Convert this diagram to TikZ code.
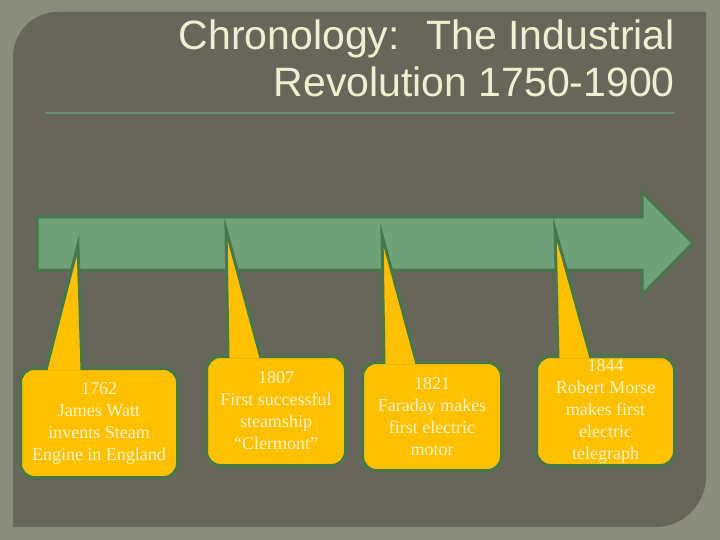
\documentclass[tikz,border=0pt]{standalone}
\usepackage{fontspec}
\setmainfont{Liberation Serif}
\newfontfamily\titlefont{Liberation Sans}
\usetikzlibrary{positioning}
\definecolor{slide}{HTML}{8A8D7E}
\definecolor{panel}{HTML}{66665A}
\definecolor{cream}{HTML}{EEEED0}
\definecolor{rulecol}{HTML}{6E8C70}
\definecolor{barfill}{HTML}{6FA279}
\definecolor{barline}{HTML}{48774C}
\definecolor{gold}{HTML}{FFC000}
\definecolor{note}{HTML}{FFF3C8}

\tikzset{
  heading/.style={text=cream, font=\titlefont\fontsize{41}{49}\selectfont, inner sep=0pt, anchor=base east},
  callout/.style={draw=barline, line width=3pt, fill=gold, rounded corners=14pt, align=center, text=note, font=\fontsize{18}{22}\selectfont, inner sep=0pt},
  tail/.style={draw=barline, line width=3pt},
}

\begin{document}
\begin{tikzpicture}[x=1pt,y=-1pt]
    \fill[slide] (0,0) rectangle (720,540);
    \fill[panel] (13,527) -- (13,57) .. controls (13,32) and (33,12) .. (58,12) -- (706,12) -- (706,477) .. controls (706,504) and (683,527) .. (656,527) -- cycle;

    \node[heading] (title1) at (675,50) {Chronology:~ The Industrial};
    \node[heading] (title2) at (675,97) {Revolution 1750-1900};
    \coordinate (r1) at (45,113);
    \coordinate (r2) at (675,113);
    \draw[rulecol, line width=1.2pt] (r1) -- (r2);

    \draw[barline, fill=barfill, line width=3pt] (37,217) -- (642,217) -- (642,192) -- (693,243) -- (642,295) -- (642,270) -- (37,270) -- cycle;

    \coordinate (t1) at (78,245);
    \coordinate (t2) at (226,229);
    \coordinate (t3) at (382,235);
    \coordinate (t4) at (555,229);

    \node[callout, minimum width=157pt, minimum height=109pt] (c1) at (99,423) {1762\\James Watt\\invents Steam\\Engine in England};
    \node[callout, minimum width=139pt, minimum height=109pt] (c2) at (276,411) {1807\\First successful\\steamship\\``Clermont''};
    \node[callout, minimum width=139pt, minimum height=108pt] (c3) at (432,416.5) {1821\\Faraday makes\\first electric\\motor};
    \node[callout, minimum width=138pt, minimum height=109pt] (c4) at (605.5,411) {1844\\Robert Morse\\makes first\\electric\\telegraph};

    \coordinate (a1) at ([xshift=27pt,yshift=-3pt]c1.north west);
    \coordinate (b1) at ([xshift=63pt,yshift=-3pt]c1.north west);
    \coordinate (a2) at ([xshift=23pt,yshift=-3pt]c2.north west);
    \coordinate (b2) at ([xshift=56pt,yshift=-3pt]c2.north west);
    \coordinate (a3) at ([xshift=23pt,yshift=-3pt]c3.north west);
    \coordinate (b3) at ([xshift=56pt,yshift=-3pt]c3.north west);
    \coordinate (a4) at ([xshift=23pt,yshift=-3pt]c4.north west);
    \coordinate (b4) at ([xshift=56pt,yshift=-3pt]c4.north west);

    \fill[gold] (a1) -- (t1) -- (b1) -- cycle;
    \fill[gold] (a2) -- (t2) -- (b2) -- cycle;
    \fill[gold] (a3) -- (t3) -- (b3) -- cycle;
    \fill[gold] (a4) -- (t4) -- (b4) -- cycle;
    \path[tail] (a1) -- (t1) -- (b1);
    \path[tail] (a2) -- (t2) -- (b2);
    \path[tail] (a3) -- (t3) -- (b3);
    \path[tail] (a4) -- (t4) -- (b4);
  \end{tikzpicture}
\end{document}
